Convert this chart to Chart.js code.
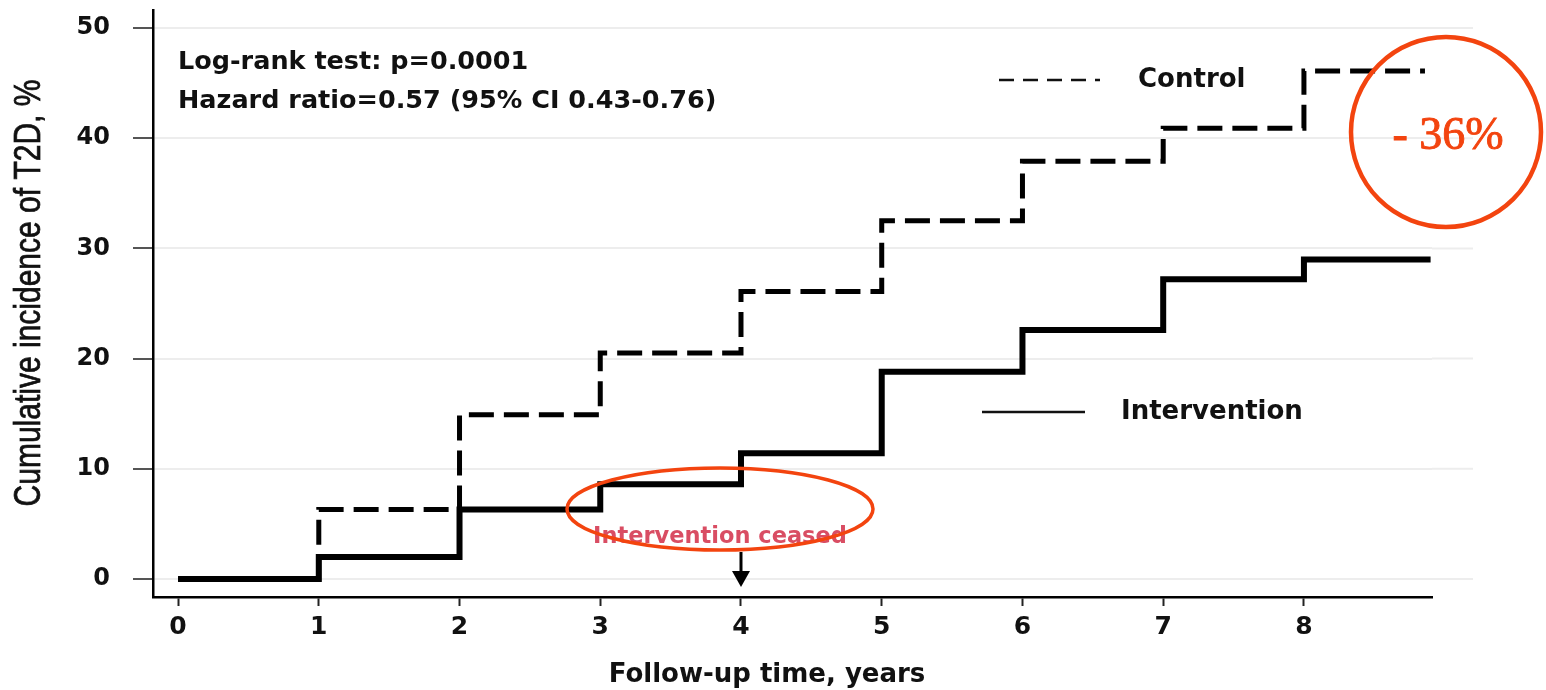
<!DOCTYPE html>
<html>
<head>
<meta charset="utf-8">
<script src="https://cdn.jsdelivr.net/npm/chart.js@4"></script>
<style>
  html, body { margin: 0; padding: 0; background: #fff; }
  #wrap { width: 1546px; height: 690px; position: relative; }
</style>
</head>
<body>
<div id="wrap"><canvas id="t2d-chart"></canvas></div>
<script>
// follow-up years where the curves step up
const years = [0, 1, 2, 3, 4, 5, 6, 7, 8];
const controlPct = [0, 6.3, 14.9, 20.5, 26.1, 32.5, 37.9, 40.9, 46.1];
const interventionPct = [0, 2.0, 6.3, 8.6, 11.4, 18.8, 22.6, 27.2, 29.0];
const controlEnd = 8.86;       // last follow-up time drawn for each curve
const interventionEnd = 8.9;

const xTickValues = [0, 1, 2, 3, 4, 5, 6, 7, 8];
const xTickLabels = ['0', '1', '2', '3', '4', '5', '6', '7', '8'];
const yTickValues = [0, 10, 20, 30, 40, 50];
const yTickLabels = ['0', '10', '20', '30', '40', '50'];

const statsLines = ['Log-rank test: p=0.0001', 'Hazard ratio=0.57 (95% CI 0.43-0.76)'];
const seriesNames = ['Control', 'Intervention'];
const ceasedYear = 4;
const reductionLabel = '- 36%';

const RED = '#f3440f';

function toPoints(xs, ys, endX) {
    const pts = xs.map((x, i) => ({ x: x, y: ys[i] }));
    pts.push({ x: endX, y: ys[ys.length - 1] });
    return pts;
}

// keep chart.js from adding label padding around the plot box
function noPadding(s) {
    s.paddingTop = 0; s.paddingBottom = 0;
    s.paddingLeft = 0; s.paddingRight = 0;
}

const overlay = {
    id: 'overlay',
    beforeDatasetsDraw(chart) {
        // grid lines run a little past the end of the x axis
        const { ctx, chartArea, scales } = chart;
        ctx.save();
        ctx.strokeStyle = '#ededed';
        ctx.lineWidth = 2;
        yTickValues.forEach(v => {
            const y = scales.y.getPixelForValue(v);
            ctx.beginPath();
            ctx.moveTo(chartArea.right, y);
            ctx.lineTo(1473, y);
            ctx.stroke();
        });
        ctx.restore();
    },
    afterDraw(chart) {
        const { ctx, scales } = chart;
        ctx.save();

        // y axis title (squeezed look of the original)
        ctx.fillStyle = '#111';
        ctx.strokeStyle = '#111';
        ctx.save();
        ctx.translate(30, 293);
        ctx.rotate(-Math.PI / 2);
        ctx.scale(1, 1.25);
        ctx.font = '30px "Liberation Sans"';
        ctx.textAlign = 'center';
        ctx.textBaseline = 'middle';
        ctx.lineWidth = 0.6;
        ctx.fillText('Cumulative incidence of T2D, %', 0, 0);
        ctx.strokeText('Cumulative incidence of T2D, %', 0, 0);
        ctx.restore();

        // x axis title
        ctx.font = 'bold 26px "DejaVu Sans"';
        ctx.textAlign = 'center';
        ctx.textBaseline = 'middle';
        ctx.fillText('Follow-up time, years', 767, 675);

        // statistics text
        ctx.font = 'bold 25.5px "DejaVu Sans"';
        ctx.textAlign = 'left';
        ctx.fillText(statsLines[0], 178, 62);
        ctx.fillText(statsLines[1], 178, 101);

        // legend
        ctx.lineWidth = 2.5;
        ctx.setLineDash([15, 9]);
        ctx.beginPath(); ctx.moveTo(999, 80); ctx.lineTo(1100, 80); ctx.stroke();
        ctx.setLineDash([]);
        ctx.beginPath(); ctx.moveTo(982, 412); ctx.lineTo(1085, 412); ctx.stroke();
        ctx.font = 'bold 26px "DejaVu Sans"';
        ctx.fillText(seriesNames[0], 1138, 80);
        ctx.fillText(seriesNames[1], 1121, 412);

        // intervention ceased marker
        const ax = scales.x.getPixelForValue(ceasedYear);
        ctx.fillStyle = '#000';
        ctx.strokeStyle = '#000';
        ctx.lineWidth = 3;
        ctx.beginPath(); ctx.moveTo(ax, 552); ctx.lineTo(ax, 574); ctx.stroke();
        ctx.beginPath();
        ctx.moveTo(ax - 9, 571); ctx.lineTo(ax + 9, 571); ctx.lineTo(ax, 587);
        ctx.closePath(); ctx.fill();

        ctx.save();
        ctx.filter = 'blur(0.5px)';
        ctx.fillStyle = 'rgba(214, 62, 86, 0.92)';
        ctx.font = 'bold 22.5px "DejaVu Sans"';
        ctx.textAlign = 'center';
        ctx.fillText('Intervention ceased', 720, 537);
        ctx.restore();

        // red highlights
        ctx.strokeStyle = RED;
        ctx.lineWidth = 3.5;
        ctx.beginPath();
        ctx.ellipse(720, 509, 153, 41, 0, 0, Math.PI * 2);
        ctx.stroke();

        ctx.lineWidth = 4.5;
        ctx.beginPath();
        ctx.arc(1446, 132, 95, 0, Math.PI * 2);
        ctx.stroke();

        ctx.fillStyle = RED;
        ctx.lineWidth = 0.9;
        ctx.font = '46px "Liberation Serif"';
        ctx.textAlign = 'center';
        ctx.fillText(reductionLabel, 1448, 137);
        ctx.strokeText(reductionLabel, 1448, 137);

        ctx.restore();
    }
};

const ctx = document.getElementById('t2d-chart').getContext('2d');
new Chart(ctx, {
    type: 'line',
    data: {
        datasets: [{
            label: seriesNames[0],
            data: toPoints(years, controlPct, controlEnd),
            borderColor: '#000',
            borderWidth: 5,
            borderDash: [25, 10],
            stepped: 'before',
            pointRadius: 0,
            fill: false
        }, {
            label: seriesNames[1],
            data: toPoints(years, interventionPct, interventionEnd),
            borderColor: '#000',
            borderWidth: 6,
            stepped: 'before',
            pointRadius: 0,
            fill: false
        }]
    },
    options: {
        responsive: true,
        maintainAspectRatio: false,
        animation: false,
        layout: { padding: { top: 10, right: 114, bottom: 0, left: 0 } },
        scales: {
            x: {
                type: 'linear',
                min: -0.178,
                max: 8.91,
                afterBuildTicks: s => { s.ticks = xTickValues.map(v => ({ value: v })); },
                afterFit: s => { s.height = 93; noPadding(s); },
                grid: { drawOnChartArea: false, tickLength: 9, tickColor: '#222', tickWidth: 2 },
                border: { color: '#000', width: 2.5 },
                ticks: {
                    padding: 6,
                    color: '#111',
                    font: { family: 'DejaVu Sans', weight: 'bold', size: 25 },
                    callback: (v) => xTickLabels[xTickValues.indexOf(v)]
                }
            },
            y: {
                min: -1.636,
                max: 51.636,
                afterBuildTicks: s => { s.ticks = yTickValues.map(v => ({ value: v })); },
                afterFit: s => { s.width = 153; noPadding(s); },
                grid: { color: '#ededed', lineWidth: 2, tickLength: 20, tickColor: '#555', tickWidth: 2 },
                border: { color: '#000', width: 2.5 },
                ticks: {
                    padding: 23,
                    color: '#111',
                    font: { family: 'DejaVu Sans', weight: 'bold', size: 24 },
                    callback: (v) => yTickLabels[yTickValues.indexOf(v)]
                }
            }
        },
        plugins: {
            legend: { display: false },
            tooltip: { enabled: false }
        }
    },
    plugins: [overlay]
});
</script>
</body>
</html>
